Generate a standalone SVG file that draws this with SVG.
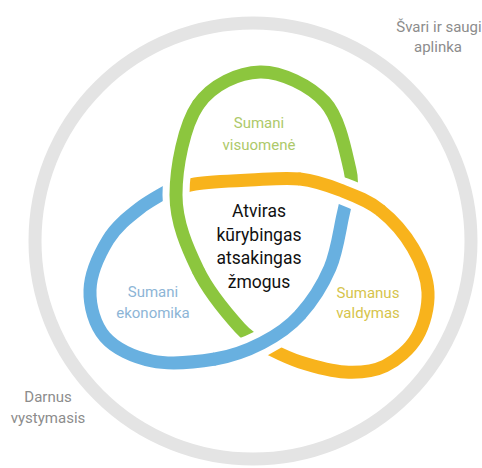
<svg xmlns="http://www.w3.org/2000/svg" width="482" height="468" viewBox="0 0 482 468">
<style>
.band{fill:none;stroke-width:13;stroke-linecap:butt;stroke-linejoin:round}
.over{fill:none;stroke-width:13;stroke-linecap:round}
.halo{fill:none;stroke:#ffffff;stroke-width:27;stroke-linecap:butt}
.g{stroke:#8cc63e}
.b{stroke:#68b0e0}
.o{stroke:#f8b31c}
text{font-family:Roboto,"Liberation Sans",sans-serif;text-anchor:middle}
.lab{font-size:15px}
.ctr{font-size:17.5px;fill:#111111}
.gray{fill:#8c8c8c}
</style>
<rect width="482" height="468" fill="#ffffff"/>
<g id="ring">
<circle cx="253" cy="241" r="218" fill="none" stroke="#e4e4e4" stroke-width="13"/>
</g>
<g id="connectors">
<path id="green-lobe" class="band g" d="M268,348 C263.3,344.7 251.7,341 240,328 C228.3,315 208.7,292.2 198,270 C187.3,247.8 176,222.5 176,195 C176,167.5 184,125.5 198,105 C212,84.5 238.8,72.5 260,72 C281.2,71.5 310,85.7 325,102 C340,118.3 346,153.7 350,170 C354,186.3 349.2,195 349,200"/>
<path id="blue-lobe" class="band b" d="M349,186 C348,190.8 346.2,201.3 343,215 C339.8,228.7 337.2,251.3 330,268 C322.8,284.7 311.3,302.5 300,315 C288.7,327.5 276.2,335.7 262,343 C247.8,350.3 233.3,356 215,359 C196.7,362 170.3,364.7 152,361 C133.7,357.3 115.3,348.8 105,337 C94.7,325.2 89.5,306.2 90,290 C90.5,273.8 99.7,253.7 108,240 C116.3,226.3 127.7,217.5 140,208 C152.3,198.5 175,187.2 182,183"/>
<path id="orange-lobe" class="band o" d="M166,194 C170.8,192.3 181,186.3 195,184 C209,181.7 232.5,180.8 250,180 C267.5,179.2 285,177.3 300,179 C315,180.7 326.7,184.8 340,190 C353.3,195.2 367.8,200.3 380,210 C392.2,219.7 405,234.3 413,248 C421,261.7 427.3,277.2 428,292 C428.7,306.8 424.2,324.7 417,337 C409.8,349.3 397,360.2 385,366 C373,371.8 359.2,372.7 345,372 C330.8,371.3 312.8,366 300,362 C287.2,358 275.7,351.8 268,348 C260.3,344.2 256.3,340.5 254,339"/>
<path class="halo" d="M198,270 C187.3,247.8 176,222.5 176,195 C176,167.5 184,125.5 198,105"/>
<path class="over g" d="M198,270 C187.3,247.8 176,222.5 176,195 C176,167.5 184,125.5 198,105"/>
<path class="halo" d="M300,179 C315,180.7 326.7,184.8 340,190 C353.3,195.2 367.8,200.3 380,210"/>
<path class="over o" d="M300,179 C315,180.7 326.7,184.8 340,190 C353.3,195.2 367.8,200.3 380,210"/>
<path class="halo" d="M300,315 C288.7,327.5 276.2,335.7 262,343 C247.8,350.3 233.3,356 215,359"/>
<path class="over b" d="M300,315 C288.7,327.5 276.2,335.7 262,343 C247.8,350.3 233.3,356 215,359"/>
</g>
<g id="node-visuomene">
<text class="lab" fill="#adc96a" x="259" y="128">Sumani</text>
<text class="lab" fill="#adc96a" x="259" y="150">visuomenė</text>
</g>
<g id="node-ekonomika">
<text class="lab" fill="#8db5d6" x="153" y="297">Sumani</text>
<text class="lab" fill="#8db5d6" x="153" y="318">ekonomika</text>
</g>
<g id="node-valdymas">
<text class="lab" fill="#d6c44c" x="368" y="298">Sumanus</text>
<text class="lab" fill="#d6c44c" x="368" y="318">valdymas</text>
</g>
<g id="node-center">
<text class="ctr" x="259" y="217">Atviras</text>
<text class="ctr" x="259" y="241">kūrybingas</text>
<text class="ctr" x="259" y="264">atsakingas</text>
<text class="ctr" x="259" y="288">žmogus</text>
</g>
<g id="node-aplinka">
<text class="lab gray" x="439" y="32">Švari ir saugi</text>
<text class="lab gray" x="438" y="52">aplinka</text>
</g>
<g id="node-darnus">
<text class="lab gray" x="48" y="402">Darnus</text>
<text class="lab gray" x="48" y="423">vystymasis</text>
</g>
</svg>
